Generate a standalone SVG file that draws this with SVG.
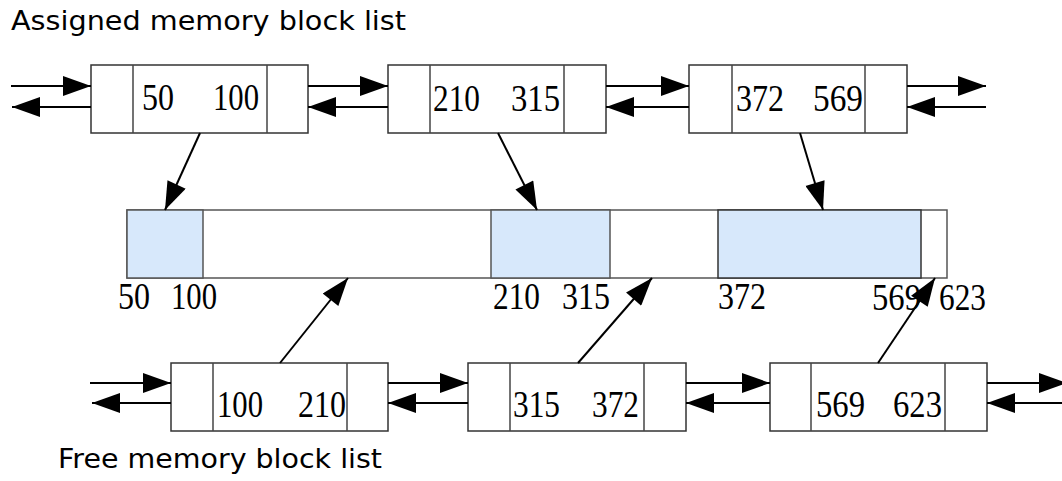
<svg xmlns="http://www.w3.org/2000/svg" width="1062" height="481" viewBox="0 0 1062 481">
<defs>
<marker id="ah" markerUnits="userSpaceOnUse" markerWidth="30" markerHeight="20" viewBox="0 0 28 20" refX="28" refY="10" orient="auto">
<path d="M0,0 L28,10 L0,20 Z" fill="#000"/>
</marker>
<style>
.box{fill:#fff;stroke:#333;stroke-width:1.5}
.div{stroke:#444;stroke-width:1.5}
.num{font-family:"Liberation Serif","Times New Roman",serif;font-size:37px;fill:#000}
.ttl{font-family:"DejaVu Sans",Verdana,sans-serif;font-size:26px;fill:#000}
.ln{stroke:#000;stroke-width:2;fill:none;marker-end:url(#ah)}
.mem{stroke:#555;stroke-width:1.5}
.blue{fill:#d7e8fb}
.white{fill:#fff}
</style>
</defs>
<rect width="1062" height="481" fill="#fff"/>
<text class="ttl" x="11" y="30" textLength="395" lengthAdjust="spacingAndGlyphs">Assigned memory block list</text>
<text class="ttl" x="58" y="468" textLength="324" lengthAdjust="spacingAndGlyphs">Free memory block list</text>

<g id="a1">
<rect class="box" x="91" y="65" width="217" height="68"/>
<line class="div" x1="133" y1="65" x2="133" y2="133"/>
<line class="div" x1="267" y1="65" x2="267" y2="133"/>
<text class="num" x="142" y="110" textLength="32" lengthAdjust="spacingAndGlyphs">50</text>
<text class="num" x="213" y="110" textLength="46" lengthAdjust="spacingAndGlyphs">100</text>
</g>
<g id="a2">
<rect class="box" x="388" y="65" width="218" height="68"/>
<line class="div" x1="430" y1="65" x2="430" y2="133"/>
<line class="div" x1="564" y1="65" x2="564" y2="133"/>
<text class="num" x="433" y="111" textLength="47" lengthAdjust="spacingAndGlyphs">210</text>
<text class="num" x="511" y="111" textLength="49" lengthAdjust="spacingAndGlyphs">315</text>
</g>
<g id="a3">
<rect class="box" x="689" y="65" width="218" height="68"/>
<line class="div" x1="732" y1="65" x2="732" y2="133"/>
<line class="div" x1="865" y1="65" x2="865" y2="133"/>
<text class="num" x="736" y="111" textLength="48" lengthAdjust="spacingAndGlyphs">372</text>
<text class="num" x="813" y="111" textLength="50" lengthAdjust="spacingAndGlyphs">569</text>
</g>

<g id="memory">
<rect class="mem white" x="127" y="210" width="820" height="68"/>
<rect class="mem blue" x="127" y="210" width="76" height="68"/>
<rect class="mem blue" x="491" y="210" width="119" height="68"/>
<rect class="mem blue" x="718" y="210" width="203" height="68" style="stroke:#333"/>
<text class="num" x="118" y="309" textLength="32" lengthAdjust="spacingAndGlyphs">50</text>
<text class="num" x="171" y="309" textLength="46" lengthAdjust="spacingAndGlyphs">100</text>
<text class="num" x="493" y="309" textLength="47" lengthAdjust="spacingAndGlyphs">210</text>
<text class="num" x="562" y="309" textLength="48" lengthAdjust="spacingAndGlyphs">315</text>
<text class="num" x="718" y="309" textLength="48" lengthAdjust="spacingAndGlyphs">372</text>
<text class="num" x="872" y="310" textLength="49" lengthAdjust="spacingAndGlyphs">569</text>
<text class="num" x="939" y="310" textLength="47" lengthAdjust="spacingAndGlyphs">623</text>
</g>

<g id="f1">
<rect class="box" x="171" y="363" width="217" height="68"/>
<line class="div" x1="213" y1="363" x2="213" y2="431"/>
<line class="div" x1="347" y1="363" x2="347" y2="431"/>
<text class="num" x="217" y="417" textLength="46" lengthAdjust="spacingAndGlyphs">100</text>
<text class="num" x="298" y="417" textLength="48" lengthAdjust="spacingAndGlyphs">210</text>
</g>
<g id="f2">
<rect class="box" x="468" y="363" width="218" height="68"/>
<line class="div" x1="510" y1="363" x2="510" y2="431"/>
<line class="div" x1="644" y1="363" x2="644" y2="431"/>
<text class="num" x="513" y="417" textLength="47" lengthAdjust="spacingAndGlyphs">315</text>
<text class="num" x="592" y="417" textLength="47" lengthAdjust="spacingAndGlyphs">372</text>
</g>
<g id="f3">
<rect class="box" x="770" y="363" width="217" height="68"/>
<line class="div" x1="811" y1="363" x2="811" y2="431"/>
<line class="div" x1="945" y1="363" x2="945" y2="431"/>
<text class="num" x="816" y="417" textLength="49" lengthAdjust="spacingAndGlyphs">569</text>
<text class="num" x="893" y="417" textLength="49" lengthAdjust="spacingAndGlyphs">623</text>
</g>

<g id="connectors">
<line class="ln" x1="11" y1="86" x2="91" y2="86"/>
<line class="ln" x1="91" y1="107" x2="12" y2="107"/>
<line class="ln" x1="308" y1="86" x2="388" y2="86"/>
<line class="ln" x1="388" y1="107" x2="308" y2="107"/>
<line class="ln" x1="606" y1="86" x2="689" y2="86"/>
<line class="ln" x1="689" y1="107" x2="606" y2="107"/>
<line class="ln" x1="907" y1="86" x2="986" y2="86"/>
<line class="ln" x1="986" y1="107" x2="907" y2="107"/>

<line class="ln" x1="90" y1="383" x2="171" y2="383"/>
<line class="ln" x1="171" y1="403" x2="92" y2="403"/>
<line class="ln" x1="388" y1="383" x2="468" y2="383"/>
<line class="ln" x1="468" y1="403" x2="388" y2="403"/>
<line class="ln" x1="686" y1="383" x2="770" y2="383"/>
<line class="ln" x1="770" y1="403" x2="686" y2="403"/>
<line class="ln" x1="987" y1="383" x2="1067" y2="383"/>
<line class="ln" x1="1070" y1="403" x2="987" y2="403"/>

<line class="ln" x1="200" y1="133" x2="165" y2="210"/>
<line class="ln" x1="498" y1="133" x2="537" y2="210"/>
<line class="ln" x1="800" y1="133" x2="823" y2="210"/>

<line class="ln" x1="280" y1="363" x2="348" y2="278"/>
<line class="ln" x1="578" y1="363" x2="652" y2="278"/>
<line class="ln" x1="878" y1="363" x2="935" y2="278"/>
</g>
</svg>
